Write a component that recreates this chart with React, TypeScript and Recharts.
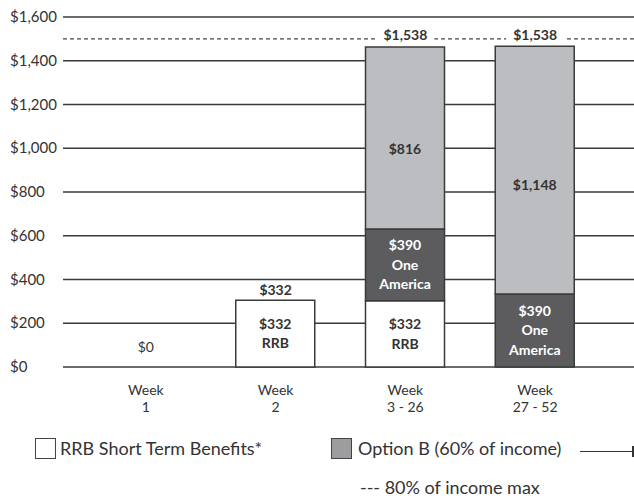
import React from 'react';
import { BarChart, Bar, XAxis, YAxis, CartesianGrid, ReferenceLine, ReferenceDot, LabelList } from 'recharts';

const categories = ['1', '2', '3 - 26', '27 - 52'];
const rrbValues = [0, 305, 303, 0];
const oneAmericaValues = [0, 0, 328, 334];
const optionBValues = [0, 0, 832, 1132];
const totalLabels = ['$0', '$332', '$1,538', '$1,538'];
const rrbLabels = ['', '$332|RRB', '$332|RRB', ''];
const oneAmericaLabels = ['', '', '$390|One|America', '$390|One|America'];
const optionBLabels = ['', '', '$816', '$1,148'];
const yTicks = [0, 200, 400, 600, 800, 1000, 1200, 1400, 1600];
const incomeMax = 1500;

const data = categories.map((week, i) => ({
  week,
  rrb: rrbValues[i],
  oneAmerica: oneAmericaValues[i],
  optionB: optionBValues[i],
  rrbText: rrbLabels[i],
  oneAmericaText: oneAmericaLabels[i],
  optionBText: optionBLabels[i],
}));

const FONT = 'Lato, "Open Sans", sans-serif';
const INK = '#333333';

const fmtMoney = (v: number) => '$' + v.toLocaleString('en-US');

const YTick = (props: any) => {
  const { y, payload } = props;
  return (
    <text x={10} y={y} dy={5} fontSize={15} fontFamily={FONT} fill={INK} textAnchor="start">
      {fmtMoney(payload.value)}
    </text>
  );
};

const XTick = (props: any) => {
  const { x, y, payload } = props;
  return (
    <g>
      <text x={x} y={y + 20} fontSize={14} fontFamily={FONT} fill={INK} textAnchor="middle">
        Week
      </text>
      <text x={x} y={y + 37} fontSize={14} fontFamily={FONT} fill={INK} textAnchor="middle">
        {payload.value}
      </text>
    </g>
  );
};

// stacked lines of text centred in a segment
const segmentLabel = (color: string, pos = 0.5) => (props: any) => {
  const { x, y, width, height, value } = props;
  if (!value) return null;
  const rows = String(value).split('|');
  const lh = 19.5;
  const cy = y + height * pos - ((rows.length - 1) * lh) / 2;
  return (
    <g>
      {rows.map((r, k) => (
        <text
          key={k}
          x={x + width / 2}
          y={cy + k * lh}
          dy={5}
          textAnchor="middle"
          fontSize={14}
          fontWeight={700}
          fontFamily={FONT}
          fill={color}
        >
          {r}
        </text>
      ))}
    </g>
  );
};

// total label drawn above a point, with white backing so the dashed line breaks
const TotalMark = (lift: number, text: string, bold: boolean, backing: boolean) => (props: any) => {
  const { cx, cy } = props;
  return (
    <g>
      {backing && <rect x={cx - 29} y={cy - lift - 9} width={58} height={18} fill="#ffffff" />}
      <text
        x={cx}
        y={cy - lift}
        dy={5}
        textAnchor="middle"
        fontSize={14}
        fontWeight={bold ? 700 : 400}
        fontFamily={FONT}
        fill={INK}
      >
        {text}
      </text>
    </g>
  );
};

export default function App() {
  return (
    <div style={{ position: 'absolute', left: 0, top: 0, width: 634, height: 499, background: '#fff', fontFamily: FONT }}>
      <BarChart
        width={634}
        height={499}
        data={data}
        margin={{ top: 17, right: 0, left: 0, bottom: 92 }}
        barSize={79}
      >
        <CartesianGrid vertical={false} stroke="#3a3a3a" strokeWidth={1.5} />
        <XAxis
          dataKey="week"
          axisLine={false}
          tickLine={false}
          height={40}
          padding={{ left: 18, right: 34 }}
          tick={<XTick />}
          interval={0}
        />
        <YAxis
          domain={[0, 1600]}
          ticks={yTicks}
          interval={0}
          width={63}
          axisLine={false}
          tickLine={false}
          tick={<YTick />}
        />
        <ReferenceLine y={incomeMax} stroke="#444" strokeWidth={1.2} strokeDasharray="4 3" />
        <Bar dataKey="rrb" stackId="a" fill="#ffffff" stroke="#3a3a3a" strokeWidth={1.5} isAnimationActive={false}>
          <LabelList dataKey="rrbText" content={segmentLabel(INK)} />
        </Bar>
        <Bar dataKey="oneAmerica" stackId="a" fill="#5c5c5e" stroke="#3a3a3a" strokeWidth={1.5} isAnimationActive={false}>
          <LabelList dataKey="oneAmericaText" content={segmentLabel('#ffffff')} />
        </Bar>
        <Bar dataKey="optionB" stackId="a" fill="#bcbdc0" stroke="#3a3a3a" strokeWidth={1.5} isAnimationActive={false}>
          <LabelList dataKey="optionBText" content={segmentLabel(INK, 0.56)} />
        </Bar>
        {categories.map((c, i) => {
          const total = rrbValues[i] + oneAmericaValues[i] + optionBValues[i];
          const onMax = total > incomeMax * 0.9;
          const yv = onMax ? incomeMax : total;
          const lift = onMax ? 4 : total === 0 ? 20 : 10;
          return (
            <ReferenceDot
              key={c}
              x={c}
              y={yv}
              r={0}
              ifOverflow="visible"
              shape={TotalMark(lift, totalLabels[i], total > 0, onMax)}
            />
          );
        })}
      </BarChart>

      {/* legend */}
      <div style={{ position: 'absolute', left: 35, top: 438, width: 19, height: 19, border: '1.5px solid #444', background: '#fff' }} />
      <div style={{ position: 'absolute', left: 60, top: 437, fontSize: 18, lineHeight: '22px', color: INK, whiteSpace: 'nowrap' }}>
        RRB Short Term Benefits*
      </div>
      <div style={{ position: 'absolute', left: 331, top: 438, width: 19, height: 19, border: '1.5px solid #444', background: '#9d9d9f' }} />
      <div style={{ position: 'absolute', left: 358, top: 437, fontSize: 18, lineHeight: '22px', color: INK, whiteSpace: 'nowrap' }}>
        Option B (60% of income)
      </div>
      <div style={{ position: 'absolute', left: 580, top: 451, width: 52, height: 1, background: INK }} />
      <div style={{ position: 'absolute', left: 632, top: 446, width: 1.5, height: 11, background: INK }} />
      <div style={{ position: 'absolute', left: 360, top: 478, fontSize: 18, lineHeight: '18px', color: INK, whiteSpace: 'nowrap' }}>
        --- 80% of income max
      </div>
    </div>
  );
}
